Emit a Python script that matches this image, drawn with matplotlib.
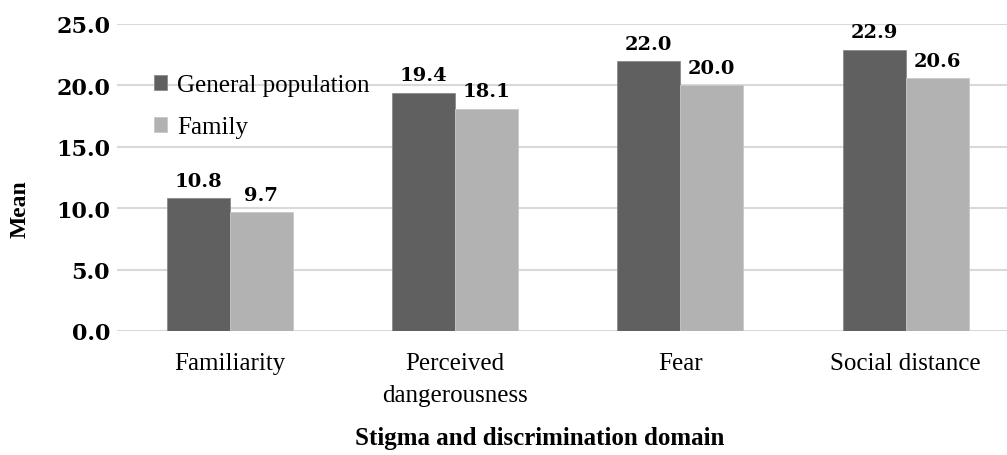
import matplotlib
matplotlib.use("Agg")
import matplotlib.pyplot as plt
import numpy as np

domains = ["Familiarity", "Perceived\ndangerousness", "Fear", "Social distance"]
general_population = [10.8, 19.4, 22.0, 22.9]
family = [9.7, 18.1, 20.0, 20.6]
yticks = [0, 5, 10, 15, 20, 25]

dark = "#606060"
light = "#b2b2b2"
num_font = {"family": "DejaVu Serif", "weight": "bold"}

fig = plt.figure(figsize=(10.07, 4.56), dpi=100)
ax = fig.add_axes([117 / 1007, 1 - 332 / 456, 1 - 117 / 1007, (332 - 25) / 456])

x = np.arange(len(domains))
w = 0.28
b1 = ax.bar(x - w / 2, general_population, w, color=dark, edgecolor="#8a8a8a",
            linewidth=0.6, label="General population", zorder=3)
b2 = ax.bar(x + w / 2, family, w, color=light, edgecolor="#c8c8c8",
            linewidth=0.6, label="Family", zorder=3)

for bars, vals in ((b1, general_population), (b2, family)):
    for rect, v in zip(bars, vals):
        ax.annotate(f"{v:.1f}", (rect.get_x() + rect.get_width() / 2, v),
                    xytext=(0, 6), textcoords="offset points",
                    ha="center", va="bottom", fontsize=14, **num_font)

ax.set_xlim(-0.5, 3.45)
ax.set_ylim(0, 25)
ax.set_yticks(yticks)
ax.set_yticklabels([f"{t:.1f}" for t in yticks], fontsize=16, **num_font)
ax.set_xticks(x)
ax.set_xticklabels(domains, fontsize=18, family="Liberation Serif", linespacing=1.6)
ax.tick_params(axis="y", length=0, pad=5)
ax.tick_params(axis="x", length=0, pad=15)

ax.grid(axis="y", color="#d9d9d9", linewidth=1.5, zorder=0)
for s in ax.spines.values():
    s.set_visible(False)

ax.set_ylabel("Mean", fontsize=17, family="Liberation Serif", weight="bold")
ax.yaxis.set_label_coords(-86 / 890, 0.4)
ax.set_xlabel("Stigma and discrimination domain", fontsize=18,
              family="Liberation Serif", weight="bold")
ax.xaxis.set_label_coords((540 - 117) / 890, -0.31)

ax.legend(loc="upper left", bbox_to_anchor=(0.03, 0.87), frameon=False,
          prop={"family": "Liberation Serif", "size": 18},
          handlelength=0.55, handleheight=0.55, handletextpad=0.4,
          labelspacing=0.8, borderaxespad=0)

fig.savefig("out.png", dpi=100)
